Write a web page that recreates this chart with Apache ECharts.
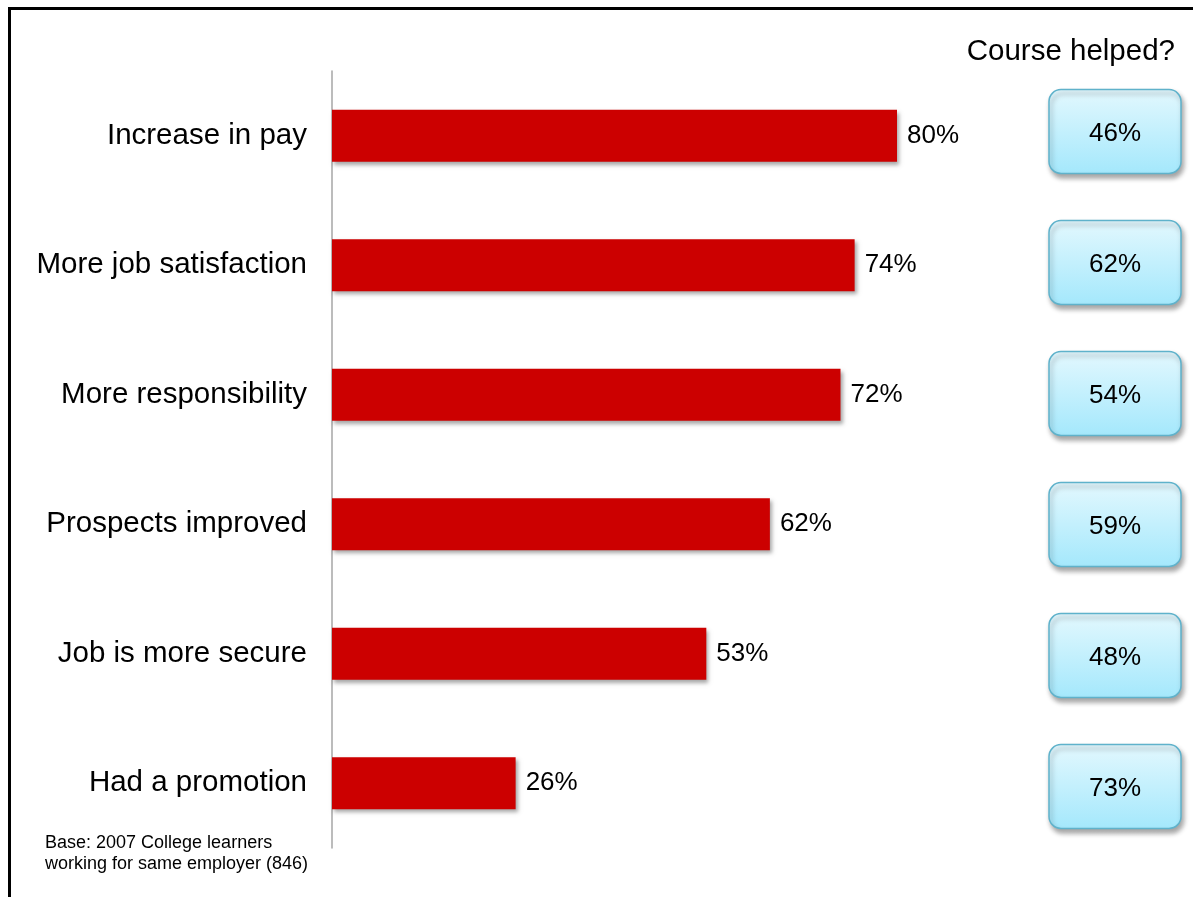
<!DOCTYPE html>
<html>
<head>
<meta charset="utf-8">
<title>Outcomes of working learners</title>
<script src="https://cdn.jsdelivr.net/npm/echarts@6/dist/echarts.min.js"></script>
<style>
  html, body { margin: 0; padding: 0; background: #fff; }
  #chart { width: 1193px; height: 897px; }
</style>
</head>
<body>
<div id="chart"></div>
<script>
// Outcomes reported by learners (share of respondents, %)
const categories = [
  'Increase in pay',
  'More job satisfaction',
  'More responsibility',
  'Prospects improved',
  'Job is more secure',
  'Had a promotion'
];
const outcomeShare = [80, 74, 72, 62, 53, 26];
// Of those, share who said the course helped (%)
const courseHelped = [46, 62, 54, 59, 48, 73];

const FONT = '"Liberation Sans", Arial, Helvetica, sans-serif';

const chart = echarts.init(document.getElementById('chart'), null, { renderer: 'canvas' });

chart.setOption({
  animation: false,
  backgroundColor: '#ffffff',
  grid: [
    { left: 332, top: 71, width: 706.25, height: 777 },
    { left: 1049, top: 66, width: 132, height: 786 }
  ],
  xAxis: [
    { type: 'value', gridIndex: 0, min: 0, max: 100, show: false },
    { type: 'value', gridIndex: 1, min: 0, max: 1, show: false }
  ],
  yAxis: [
    {
      type: 'category',
      gridIndex: 0,
      data: categories,
      inverse: true,
      axisLine: { show: true, lineStyle: { color: '#a6a6a6', width: 1.5 } },
      axisTick: { show: false },
      axisLabel: {
        margin: 25,
        color: '#000',
        fontSize: 29.5,
        fontFamily: FONT,
        padding: [4, 0, 0, 0]
      }
    },
    {
      type: 'category',
      gridIndex: 1,
      data: categories,
      inverse: true,
      show: false
    }
  ],
  series: [
    {
      type: 'bar',
      xAxisIndex: 0,
      yAxisIndex: 0,
      data: outcomeShare,
      barWidth: 52,
      itemStyle: {
        color: '#cc0000',
        shadowColor: 'rgba(0,0,0,0.35)',
        shadowBlur: 4,
        shadowOffsetX: 2,
        shadowOffsetY: 3
      },
      label: {
        show: true,
        position: 'right',
        distance: 10,
        formatter: '{c}%',
        color: '#000',
        fontSize: 26,
        fontFamily: FONT,
        padding: [4, 0, 0, 0]
      }
    },
    {
      type: 'custom',
      xAxisIndex: 1,
      yAxisIndex: 1,
      data: courseHelped.map((v, i) => [i, v]),
      renderItem: function (params, api) {
        const cs = params.coordSys;
        const cy = api.coord([0, api.value(0)])[1];
        const h = api.size([0, 1])[1] * 0.64;
        const w = cs.width;
        return {
          type: 'group',
          children: [
            {
              type: 'rect',
              shape: { x: cs.x, y: cy - h / 2, width: w, height: h, r: 12 },
              style: {
                fill: new echarts.graphic.LinearGradient(0, 0, 0, 1, [
                  { offset: 0, color: '#e3f8fe' },
                  { offset: 1, color: '#a4e8fc' }
                ]),
                stroke: '#5fb2cb',
                lineWidth: 1.5,
                shadowColor: 'rgba(0,0,0,0.35)',
                shadowBlur: 5,
                shadowOffsetX: 2,
                shadowOffsetY: 4
              }
            },
            {
              type: 'text',
              style: {
                x: cs.x + w / 2,
                y: cy + 2,
                text: api.value(1) + '%',
                align: 'center',
                verticalAlign: 'middle',
                fill: '#000',
                fontSize: 26,
                fontFamily: FONT
              }
            }
          ]
        };
      }
    }
  ],
  graphic: [
    {
      type: 'polyline',
      shape: { points: [[9.5, 897], [9.5, 8.5], [1193, 8.5]] },
      style: { stroke: '#000', lineWidth: 3, fill: null }
    },
    {
      type: 'text',
      right: 18,
      top: 37,
      style: {
        text: 'Course helped?',
        fill: '#000',
        fontSize: 29.5,
        fontFamily: FONT
      }
    },
    {
      type: 'text',
      left: 45,
      top: 833,
      style: {
        text: 'Base: 2007 College learners\nworking for same employer (846)',
        fill: '#000',
        fontSize: 18,
        lineHeight: 21,
        fontFamily: FONT
      }
    }
  ]
});
</script>
</body>
</html>
